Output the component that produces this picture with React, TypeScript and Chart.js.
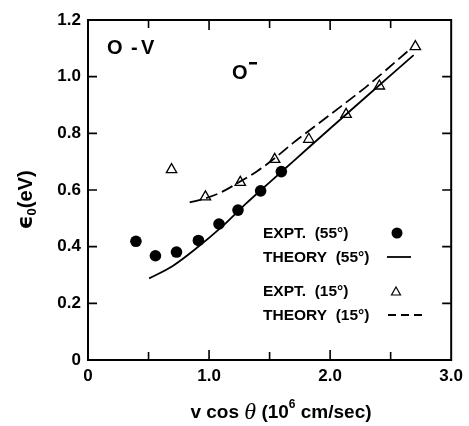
import React, { useEffect, useRef } from "react";
import { Chart, registerables } from "chart.js";

Chart.register(...registerables);

// ---- data ----
const expt55X = [0.396, 0.557, 0.731, 0.912, 1.082, 1.239, 1.426, 1.597];
const expt55Y = [0.419, 0.368, 0.381, 0.422, 0.48, 0.529, 0.597, 0.665];

const expt15X = [0.69, 0.97, 1.258, 1.542, 1.824, 2.132, 2.407, 2.704];
const expt15Y = [0.672, 0.576, 0.627, 0.708, 0.779, 0.867, 0.967, 1.106];

const theory55X = [0.505, 0.7, 0.9, 1.1, 1.3, 1.5, 1.7, 2.0, 2.3, 2.69];
const theory55Y = [0.288, 0.332, 0.396, 0.468, 0.55, 0.627, 0.703, 0.817, 0.93, 1.076];

const theory15X = [0.84, 0.95, 1.1, 1.25, 1.4, 1.55, 1.7, 2.0, 2.3, 2.65];
const theory15Y = [0.556, 0.568, 0.592, 0.628, 0.667, 0.715, 0.768, 0.866, 0.965, 1.093];

const xTickValues = [0, 1, 2, 3];
const xTickLabels = ["0", "1.0", "2.0", "3.0"];
const xMinorTicks = [0.5, 1.5, 2.5];
const yTickValues = [0, 0.2, 0.4, 0.6, 0.8, 1.0, 1.2];
const yTickLabels = ["0", "0.2", "0.4", "0.6", "0.8", "1.0", "1.2"];

const legendLabels = ["EXPT.  (55°)", "THEORY  (55°)", "EXPT.  (15°)", "THEORY  (15°)"];

const toPts = (xs: number[], ys: number[]) => xs.map((x, i) => ({ x, y: ys[i] }));

const SANS = "'Liberation Sans', Arial, sans-serif";

const decor = {
  id: "decor",
  afterDraw(chart: any) {
    const { ctx, chartArea: a, scales } = chart;
    const xs = scales.x;
    const ys = scales.y;
    ctx.save();
    ctx.strokeStyle = "#000";
    ctx.fillStyle = "#000";
    // frame
    ctx.lineWidth = 2;
    ctx.strokeRect(a.left, a.top, a.right - a.left, a.bottom - a.top);
    // x ticks (bottom + top, inward)
    ctx.lineWidth = 1.6;
    const xt = [...xTickValues.map((v) => [v, 10]), ...xMinorTicks.map((v) => [v, 8])];
    xt.forEach(([v, len]) => {
      const px = xs.getPixelForValue(v);
      if (px <= a.left + 1 || px >= a.right - 1) return;
      ctx.beginPath();
      ctx.moveTo(px, a.bottom);
      ctx.lineTo(px, a.bottom - len);
      ctx.moveTo(px, a.top);
      ctx.lineTo(px, a.top + len);
      ctx.stroke();
    });
    yTickValues.forEach((v) => {
      const py = ys.getPixelForValue(v);
      if (py <= a.top + 1 || py >= a.bottom - 1) return;
      ctx.beginPath();
      ctx.moveTo(a.left, py);
      ctx.lineTo(a.left + 9, py);
      ctx.moveTo(a.right, py);
      ctx.lineTo(a.right - 9, py);
      ctx.stroke();
    });

    // annotations
    ctx.textBaseline = "middle";
    ctx.textAlign = "left";
    ctx.font = `bold 20px ${SANS}`;
    ctx.fillText("O", 107, 48);
    ctx.fillText("-", 131, 48);
    ctx.fillText("V", 141, 48);
    ctx.fillText("O", 232, 73);
    ctx.fillRect(249, 62, 8, 2.5);

    // legend
    ctx.font = `bold 15.5px ${SANS}`;
    const rows = [234, 258, 292, 316];
    legendLabels.forEach((t, i) => ctx.fillText(t, 263, rows[i]));
    ctx.beginPath();
    ctx.arc(397, 233, 5.5, 0, Math.PI * 2);
    ctx.fill();
    ctx.lineWidth = 1.8;
    ctx.beginPath();
    ctx.moveTo(387, 257);
    ctx.lineTo(411, 257);
    ctx.stroke();
    ctx.lineWidth = 1.2;
    ctx.beginPath();
    ctx.moveTo(396, 287);
    ctx.lineTo(400.5, 295);
    ctx.lineTo(391.5, 295);
    ctx.closePath();
    ctx.stroke();
    ctx.lineWidth = 1.8;
    ctx.setLineDash([8, 5]);
    ctx.beginPath();
    ctx.moveTo(388, 315);
    ctx.lineTo(425, 315);
    ctx.stroke();
    ctx.setLineDash([]);

    // x title: v cos θ (10^6 cm/sec)
    const parts: [string, string, number][] = [
      ["v cos ", `bold 19px ${SANS}`, 0],
      ["θ", `italic 24px 'Liberation Serif', serif`, 0],
      [" (10", `bold 19px ${SANS}`, 0],
      ["6", `bold 12px ${SANS}`, -8],
      [" cm/sec)", `bold 19px ${SANS}`, 0],
    ];
    let total = 0;
    parts.forEach(([t, f]) => {
      ctx.font = f;
      total += ctx.measureText(t).width;
    });
    let cx = 281 - total / 2;
    parts.forEach(([t, f, dy]) => {
      ctx.font = f;
      ctx.fillText(t, cx, 413 + dy);
      cx += ctx.measureText(t).width;
    });

    // y title: ϵ0(eV), rotated
    ctx.translate(26, 200);
    ctx.rotate(-Math.PI / 2);
    const yp: [string, string, number][] = [
      ["ϵ", `bold 22px 'DejaVu Sans', sans-serif`, 0],
      ["0", `bold 13px ${SANS}`, 6],
      ["(eV)", `bold 20px ${SANS}`, 0],
    ];
    let tw = 0;
    yp.forEach(([t, f]) => {
      ctx.font = f;
      tw += ctx.measureText(t).width;
    });
    let yx = -tw / 2;
    yp.forEach(([t, f, dy]) => {
      ctx.font = f;
      ctx.fillText(t, yx, dy);
      yx += ctx.measureText(t).width;
    });
    ctx.restore();
  },
};

export default function App() {
  const ref = useRef<HTMLCanvasElement>(null);
  useEffect(() => {
    if (!ref.current) return;
    const chart = new Chart(ref.current, {
      type: "scatter",
      data: {
        datasets: [
          {
            label: "THEORY (55°)",
            data: toPts(theory55X, theory55Y),
            showLine: true,
            borderColor: "#000",
            borderWidth: 1.8,
            pointRadius: 0,
            cubicInterpolationMode: "monotone",
            fill: false,
          },
          {
            label: "THEORY (15°)",
            data: toPts(theory15X, theory15Y),
            showLine: true,
            borderColor: "#000",
            borderWidth: 1.8,
            borderDash: [12, 5],
            pointRadius: 0,
            cubicInterpolationMode: "monotone",
            fill: false,
          },
          {
            label: "EXPT. (55°)",
            data: toPts(expt55X, expt55Y),
            pointStyle: "circle",
            pointRadius: 5.8,
            backgroundColor: "#000",
            borderColor: "#000",
            borderWidth: 0,
          },
          {
            label: "EXPT. (15°)",
            data: toPts(expt15X, expt15Y),
            pointStyle: "triangle",
            pointRadius: 6,
            backgroundColor: "#fff",
            borderColor: "#000",
            borderWidth: 1.3,
          },
        ],
      },
      options: {
        responsive: false,
        animation: false,
        layout: { padding: { top: 20, right: 17, left: 0, bottom: 0 } },
        plugins: { legend: { display: false }, tooltip: { enabled: false } },
        scales: {
          x: {
            type: "linear",
            min: 0,
            max: 3,
            grid: { display: false, drawTicks: false },
            border: { display: false },
            afterFit: (s: any) => {
              s.height = 66;
            },
            ticks: {
              stepSize: 0.5,
              padding: 6,
              color: "#000",
              font: { family: SANS, size: 17, weight: "bold" },
              maxRotation: 0,
              autoSkip: false,
              callback: (v: any) => {
                const i = xTickValues.findIndex((t) => Math.abs(t - v) < 1e-6);
                return i >= 0 ? xTickLabels[i] : "";
              },
            },
          },
          y: {
            type: "linear",
            min: 0,
            max: 1.2,
            grid: { display: false, drawTicks: false },
            border: { display: false },
            afterFit: (s: any) => {
              s.width = 88;
            },
            ticks: {
              stepSize: 0.2,
              padding: 7,
              color: "#000",
              font: { family: SANS, size: 17, weight: "bold" },
              autoSkip: false,
              callback: (v: any) => {
                const i = yTickValues.findIndex((t) => Math.abs(t - v) < 1e-6);
                return i >= 0 ? yTickLabels[i] : "";
              },
            },
          },
        },
      },
      plugins: [decor],
    } as any);
    return () => chart.destroy();
  }, []);
  return (
    <div style={{ position: "fixed", left: 0, top: 0, width: 469, height: 426, background: "#fff" }}>
      <canvas ref={ref} width={469} height={426} />
    </div>
  );
}
